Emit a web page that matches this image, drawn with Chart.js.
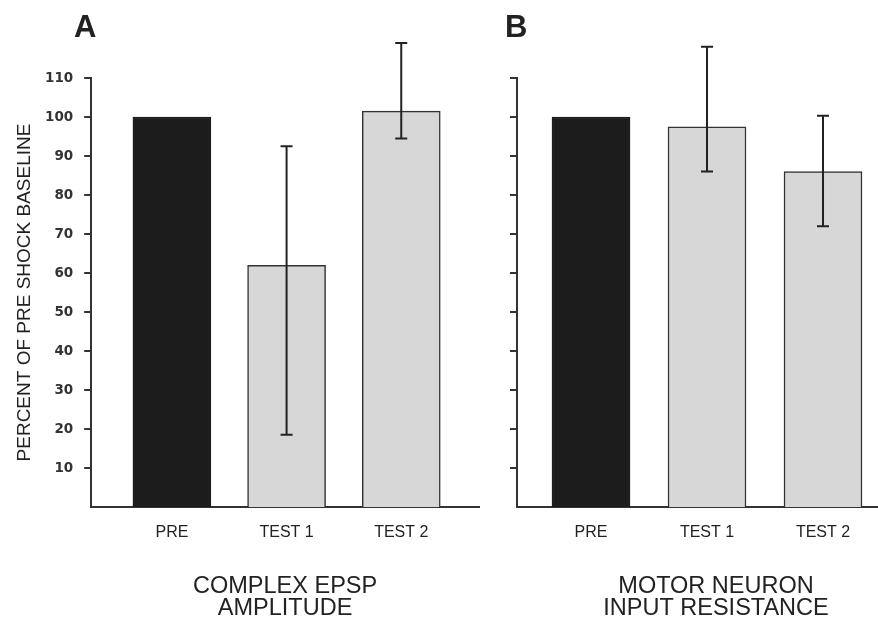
<!DOCTYPE html>
<html>
<head>
<meta charset="utf-8">
<script src="https://cdn.jsdelivr.net/npm/chart.js@4/dist/chart.umd.min.js"></script>
<style>
  html, body { margin: 0; padding: 0; background: #fff; overflow: hidden; }
  #wrap { position: relative; width: 878px; height: 620px; overflow: hidden; }
  canvas { position: absolute; top: 0; }
  #chartA { left: 0; }
  #chartB { left: 480px; }
</style>
</head>
<body>
<div id="wrap">
  <canvas id="chartA" width="480" height="620"></canvas>
  <canvas id="chartB" width="435" height="620"></canvas>
</div>
<script>
// values (percent of pre-shock baseline)
const categories = ['PRE', 'TEST 1', 'TEST 2'];
const yTicks = [10, 20, 30, 40, 50, 60, 70, 80, 90, 100, 110];

const epspMean = [100, 62, 101.5];
const epspLow  = [null, 18.5, 94.5];
const epspHigh = [null, 92.5, 119];

const resMean = [100, 97.5, 86];
const resLow  = [null, 86, 72];
const resHigh = [null, 118, 100.3];

const ink = '#222';
const barColors = ['#1c1c1c', '#d7d7d7', '#d7d7d7'];
const barBorders = ['#1c1c1c', '#333', '#333'];

// error bars + panel letter
const extras = {
  id: 'extras',
  afterDatasetsDraw(chart, args, opts) {
    const ctx = chart.ctx;
    const xs = chart.scales.x, ys = chart.scales.y;
    ctx.save();
    ctx.strokeStyle = ink;
    ctx.lineWidth = 2;
    opts.low.forEach((lo, i) => {
      const hi = opts.high[i];
      if (lo == null || hi == null) return;
      const x = xs.getPixelForValue(i);
      const y1 = ys.getPixelForValue(lo), y2 = ys.getPixelForValue(hi);
      ctx.beginPath();
      ctx.moveTo(x, y1); ctx.lineTo(x, y2);
      ctx.moveTo(x - 6, y1); ctx.lineTo(x + 6, y1);
      ctx.moveTo(x - 6, y2); ctx.lineTo(x + 6, y2);
      ctx.stroke();
    });
    ctx.restore();
  },
  afterDraw(chart, args, opts) {
    const ctx = chart.ctx;
    ctx.save();
    ctx.fillStyle = ink;
    ctx.font = 'bold 31px "Liberation Sans", Arial, sans-serif';
    ctx.textBaseline = 'alphabetic';
    ctx.fillText(opts.letter, opts.letterX, 37);
    ctx.restore();
  }
};

function makePanel(id, means, low, high, opt) {
  return new Chart(document.getElementById(id), {
    type: 'bar',
    data: {
      datasets: [{
        data: categories.map((c, i) => ({ x: i, y: means[i] })),
        backgroundColor: barColors,
        borderColor: barBorders,
        borderWidth: 1.5,
        borderSkipped: 'bottom',
        barThickness: 78
      }]
    },
    options: {
      responsive: false,
      animation: false,
      layout: { padding: opt.padding },
      plugins: {
        legend: { display: false },
        tooltip: { enabled: false },
        extras: { low: low, high: high, letter: opt.letter, letterX: opt.letterX }
      },
      scales: {
        x: {
          type: 'linear',
          min: opt.xMin,
          max: opt.xMax,
          offset: false,
          afterBuildTicks: (s) => { s.ticks = categories.map((c, i) => ({ value: i })); },
          grid: { display: true, drawOnChartArea: false, drawTicks: false, offset: false },
          border: { display: true, color: '#333', width: 2 },
          ticks: {
            padding: 16,
            color: ink,
            font: { family: '"Liberation Sans", Arial, sans-serif', size: 16 },
            callback: (v) => categories[v]
          },
          title: {
            display: true,
            text: opt.xTitle,
            color: ink,
            font: { family: '"Liberation Sans", Arial, sans-serif', size: 23.5, lineHeight: 0.94 },
            padding: { top: 17.6, bottom: 0 }
          }
        },
        y: {
          min: 0,
          max: 110,
          afterBuildTicks: (s) => { s.ticks = yTicks.map(v => ({ value: v })); },
          grid: { drawOnChartArea: false, drawTicks: true, tickLength: 7, color: '#333', lineWidth: 2 },
          border: { display: true, color: '#333', width: 2 },
          ticks: {
            display: opt.showYLabels,
            padding: 11,
            color: '#333',
            font: { family: '"DejaVu Sans", sans-serif', size: 13.5, weight: 'bold' }
          },
          title: {
            display: opt.showYLabels,
            text: 'PERCENT OF PRE SHOCK BASELINE',
            color: ink,
            font: { family: '"Liberation Sans", Arial, sans-serif', size: 19, lineHeight: 1 },
            padding: { top: 15, bottom: 0 }
          }
        }
      }
    },
    plugins: [extras]
  });
}

makePanel('chartA', epspMean, epspLow, epspHigh, {
  padding: { top: 78, right: 1, left: 0, bottom: 0 },
  xMin: -0.704, xMax: 2.678,
  xTitle: ['COMPLEX EPSP', 'AMPLITUDE'],
  showYLabels: true,
  letter: 'A', letterX: 74
});

makePanel('chartB', resMean, resLow, resHigh, {
  padding: { top: 78, right: 0, left: 30, bottom: 0 },
  xMin: -0.638, xMax: 2.793,
  xTitle: ['MOTOR NEURON', 'INPUT RESISTANCE'],
  showYLabels: false,
  letter: 'B', letterX: 25
});
</script>
</body>
</html>
